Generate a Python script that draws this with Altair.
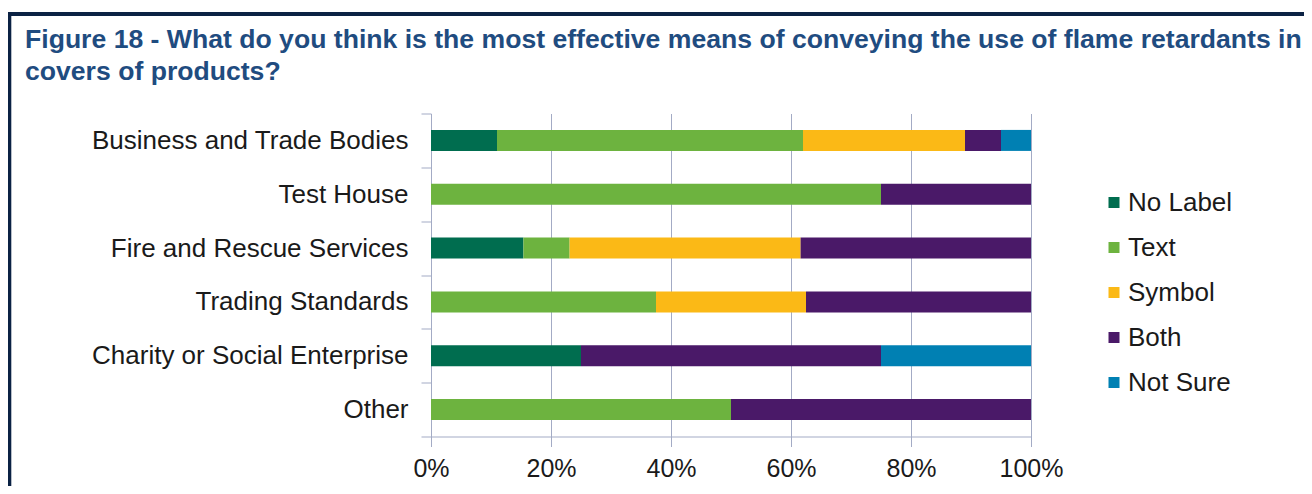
import altair as alt
import pandas as pd

# ---- data ----
categories = [
    "Business and Trade Bodies",
    "Test House",
    "Fire and Rescue Services\u00a0",
    "Trading Standards\u00a0",
    "Charity or Social Enterprise",
    "Other\u00a0",
]
series = ["No Label", "Text", "Symbol", "Both", "Not Sure"]
colors = ["#006D4F", "#6DB33F", "#FBB916", "#4A1968", "#0080B3"]

no_label = [11.0, 0.0, 15.4, 0.0, 25.0, 0.0]
text_vals = [51.0, 75.0, 7.7, 37.5, 0.0, 50.0]
symbol = [27.0, 0.0, 38.5, 25.0, 0.0, 0.0]
both = [6.0, 25.0, 38.4, 37.5, 50.0, 50.0]
not_sure = [5.0, 0.0, 0.0, 0.0, 25.0, 0.0]

x_ticks = [0, 20, 40, 60, 80, 100]

title_lines = [
    "Figure 18 - What do you think is the most effective means of conveying the use of flame retardants in",
    "covers of products?",
]

# ---- build table ----
all_series = [no_label, text_vals, symbol, both, not_sure]
rows = []
for i, cat in enumerate(categories):
    for j, s in enumerate(series):
        v = all_series[j][i]
        if v > 0:
            rows.append({"group": cat, "series": s, "value": v, "order": j})
df = pd.DataFrame(rows)

FONT = "Liberation Sans"
AX = "#A3ABC5"
TXT = "#1A1A1A"
FRAME = "#0B2244"

bars = alt.Chart(df).mark_bar(size=21).encode(
    y=alt.Y(
        "group:N",
        sort=categories,
        title=None,
        scale=alt.Scale(paddingInner=0, paddingOuter=0),
        axis=alt.Axis(
            tickBand="extent",
            tickSize=10,
            labelPadding=13,
            labelFontSize=26,
            labelFont=FONT,
            labelColor=TXT,
            labelLimit=500,
            domainColor=AX,
            tickColor=AX,
            grid=False,
        ),
    ),
    x=alt.X(
        "value:Q",
        stack="zero",
        title=None,
        scale=alt.Scale(domain=[0, 100], nice=False),
        axis=alt.Axis(
            values=x_ticks,
            labelExpr="datum.value + '%'",
            tickSize=10,
            labelPadding=10,
            labelFontSize=25,
            labelFont=FONT,
            labelColor=TXT,
            domainColor=AX,
            tickColor=AX,
            grid=True,
            gridColor=AX,
            labelFlush=False,
        ),
    ),
    color=alt.Color(
        "series:N",
        sort=series,
        scale=alt.Scale(domain=series, range=colors),
        legend=alt.Legend(
            title=None,
            orient="none",
            legendX=670,
            legendY=76,
            padding=0,
            symbolType="square",
            symbolSize=121,
            symbolStrokeWidth=0,
            labelFontSize=26,
            labelFont=FONT,
            labelColor=TXT,
            labelOffset=1,
            rowPadding=19,
        ),
    ),
    order=alt.Order("order:Q"),
)

frame_df = pd.DataFrame({"k": [0]})
top_rule = alt.Chart(frame_df).mark_rule(color=FRAME, strokeWidth=4).encode(
    x=alt.value(-440), x2=alt.value(900), y=alt.value(-99.5)
)
left_rule = alt.Chart(frame_df).mark_rule(color=FRAME, strokeWidth=4).encode(
    x=alt.value(-421.7), y=alt.value(-101.5), y2=alt.value(420)
)

chart = alt.layer(top_rule, left_rule, bars).properties(
    width=600,
    height=323,
    autosize="none",
    padding={"left": 423, "top": 105.5, "right": 273, "bottom": 49.5},
    title=alt.Title(
        title_lines,
        anchor="start",
        frame="group",
        dx=-406,
        dy=86,
        fontSize=26.6,
        font=FONT,
        fontWeight="bold",
        color="#1F4C80",
        lineHeight=32,
        offset=10,
    ),
).configure_view(stroke=None)

chart.save("out.html", embed_options={"renderer": "svg", "actions": False})
